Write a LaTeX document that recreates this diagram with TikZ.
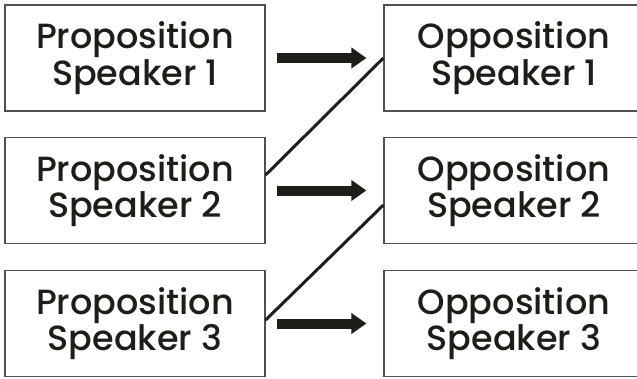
\documentclass[tikz,border=0pt]{standalone}
\usepackage{fontspec}
\setmainfont{Poppins}[UprightFont={* Medium}]
\usetikzlibrary{arrows.meta,calc}
\definecolor{ink}{HTML}{1D1D1B}
\definecolor{edge}{HTML}{505050}
\tikzset{
  spk/.style={draw=edge, line width=1.2pt, minimum width=260pt, minimum height=106pt,
    inner sep=0pt, align=center, text=ink, font=\fontsize{35}{36.5}\selectfont},
  fat/.style={draw=ink, line width=10pt, -{Triangle[length=15pt,width=20pt]}, shorten <=11pt, shorten >=17pt},
  diag/.style={draw=ink, line width=3pt}
}
\begin{document}
\begin{tikzpicture}[x=1pt,y=-1pt]
\useasboundingbox (0,0) rectangle (637,378);
\node[spk] (p1) at (135,58) {Proposition\\Speaker 1};
\node[spk] (p2) at (135,190.5) {Proposition\\Speaker 2};
\node[spk] (p3) at (135,323.5) {Proposition\\Speaker 3};
\node[spk] (o1) at (514,58) {Opposition\\Speaker 1};
\node[spk] (o2) at (514,190.5) {Opposition\\Speaker 2};
\node[spk] (o3) at (514,323.5) {Opposition\\Speaker 3};
\draw[fat] (p1.east) -- (o1.west);
\draw[fat] (p2.east) -- (o2.west);
\draw[fat] (p3.east) -- (o3.west);
\draw[diag] ($(p2.east)+(0,-15.5)$) -- (o1.west);
\draw[diag] ($(p3.east)+(0,-3.5)$) -- ($(o2.west)+(0,14.5)$);
\end{tikzpicture}
\end{document}
